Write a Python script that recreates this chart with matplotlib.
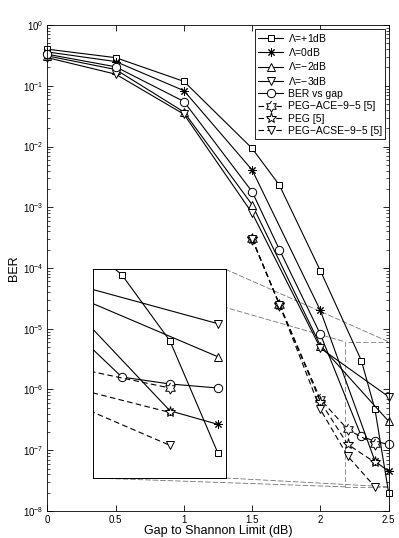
import matplotlib
matplotlib.use("Agg")
import matplotlib.pyplot as plt
import numpy as np
from matplotlib.patches import ConnectionPatch, Rectangle
from matplotlib.path import Path

plt.rcParams['font.family'] = ['Liberation Sans', 'DejaVu Sans']
plt.rcParams['mathtext.fontset'] = 'custom'
plt.rcParams['mathtext.rm'] = 'Liberation Sans'
plt.rcParams['mathtext.it'] = 'Liberation Sans'

# data
x_p1 = [0, 0.5, 1, 1.5, 1.7, 2, 2.3, 2.4, 2.5]
ber_p1 = [0.40, 0.29, 0.118, 0.0093, 0.0023, 9.0e-5, 3.0e-6, 4.7e-7, 2.0e-8]

x_0 = [0, 0.5, 1, 1.5, 2, 2.4, 2.5]
ber_0 = [0.36, 0.25, 0.083, 0.0041, 2.0e-5, 6.6e-8, 4.5e-8]

x_m2 = [0, 0.5, 1, 1.5, 2, 2.5]
ber_m2 = [0.31, 0.185, 0.037, 0.0011, 5.3e-6, 3.0e-7]

x_m3 = [0, 0.5, 1, 1.5, 2, 2.5]
ber_m3 = [0.29, 0.155, 0.034, 0.0008, 4.8e-6, 7.6e-7]

x_gap = [0, 0.5, 1, 1.5, 1.7, 2, 2.3, 2.4, 2.5]
ber_gap = [0.33, 0.205, 0.055, 0.0018, 2.0e-4, 8.1e-6, 1.7e-7, 1.4e-7, 1.25e-7]

x_peg = [1.5, 1.7, 2, 2.2, 2.4]
ber_ace = [3.0e-4, 2.5e-5, 6.9e-7, 2.2e-7, 1.25e-7]
ber_peg = [3.0e-4, 2.5e-5, 6.3e-7, 1.25e-7, 6.3e-8]
ber_acse = [3.0e-4, 2.5e-5, 4.7e-7, 8.0e-8, 2.5e-8]

labels = [r'$\Lambda$=+1dB', r'$\Lambda$=0dB', r'$\Lambda$=$-$2dB', r'$\Lambda$=$-$3dB',
          'BER vs gap', 'PEG\u2212ACE\u22129\u22125 [5]', 'PEG [5]', 'PEG\u2212ACSE\u22129\u22125 [5]']

# hexagram marker (outline of star of David)
ang = np.pi / 2 + np.arange(12) * np.pi / 6
rad = np.where(np.arange(12) % 2 == 0, 1.0, 1 / np.sqrt(3))
hexa = Path(np.column_stack([rad * np.cos(ang), rad * np.sin(ang)]))

series = [
    (x_p1, ber_p1, 's', '-', 5),
    (x_0, ber_0, (8, 2, 0), '-', 6),
    (x_m2, ber_m2, '^', '-', 6),
    (x_m3, ber_m3, 'v', '-', 6),
    (x_gap, ber_gap, 'o', '-', 6),
    (x_peg, ber_ace, hexa, '--', 8),
    (x_peg, ber_peg, '*', '--', 8),
    (x_peg, ber_acse, 'v', '--', 6),
]


def draw(ax, clip):
    for (xs, ys, m, ls, ms), lab in zip(series, labels):
        ax.plot(xs, ys, color='k', ls=ls, lw=0.8, marker=m, ms=ms,
                mfc='white', mec='k', mew=0.7, label=lab, clip_on=clip,
                dashes=(5, 3) if ls == '--' else (None, None))


fig = plt.figure(figsize=(3.99, 5.38), dpi=100)
ax = fig.add_axes([0.119, 0.0502, 0.855, 0.9033])
draw(ax, False)
ax.set_yscale('log')
ax.set_xlim(0, 2.5)
ax.set_ylim(1e-8, 1)
ax.set_xticks([0, 0.5, 1, 1.5, 2, 2.5])
ax.set_xticklabels(['0', '0.5', '1', '1.5', '2', '2.5'])
ax.set_yticks([10.0 ** k for k in range(-8, 1)])
ax.set_yticklabels([r'$10^{%d}$' % k if k == 0 else r'$10^{-%d}$' % -k for k in range(-8, 1)])
ax.tick_params(which='both', direction='in', top=True, right=True, labelsize=7, pad=3)
ax.tick_params(which='major', length=4, width=0.6)
ax.tick_params(which='minor', length=2, width=0.5)
ax.tick_params(axis='x', which='minor', top=False, bottom=False)
for s in ax.spines.values():
    s.set_linewidth(0.6)
ax.set_xlabel('Gap to Shannon Limit (dB)', fontsize=9, labelpad=0)
ax.set_ylabel('BER', fontsize=9, labelpad=2)

leg = ax.legend(loc='upper right', fontsize=7.5, handlelength=2.4, borderaxespad=0.35,
                labelspacing=0.22, handletextpad=0.4, borderpad=0.3, fancybox=False,
                edgecolor='k', framealpha=1)
leg.get_frame().set_linewidth(0.6)
leg.set_zorder(5)

# zoom rectangle in the main axes
rx0, rx1, ry0, ry1 = 2.18, 2.5, 2.5e-8, 6.1e-6
ax.add_patch(Rectangle((rx0, ry0), rx1 - rx0, ry1 - ry0, fill=False, ec='0.5',
                       lw=0.6, ls=(0, (6, 3)), zorder=1))

# inset
ins = fig.add_axes([93 / 399, 1 - 478 / 538, (225.7 - 93) / 399, (478 - 269.3) / 538])
draw(ins, True)
ins.set_yscale('log')
ins.set_xlim(2.24, 2.516)
ins.set_ylim(1e-8, 3.5e-6)
ins.set_xticks([])
ins.set_yticks([])
ins.minorticks_off()
for s in ins.spines.values():
    s.set_linewidth(0.7)

for (fa, fb) in [((0, 1), (rx0, ry1)), ((1, 1), (rx1, ry1)), ((0, 0), (rx0, ry0)), ((1, 0), (rx1, ry0))]:
    con = ConnectionPatch(xyA=fa, coordsA=ins.transAxes, xyB=fb, coordsB=ax.transData,
                          color='0.45', lw=0.6, ls=(0, (6, 3)), zorder=1)
    ax.add_artist(con)

fig.savefig('out.png', dpi=100)
